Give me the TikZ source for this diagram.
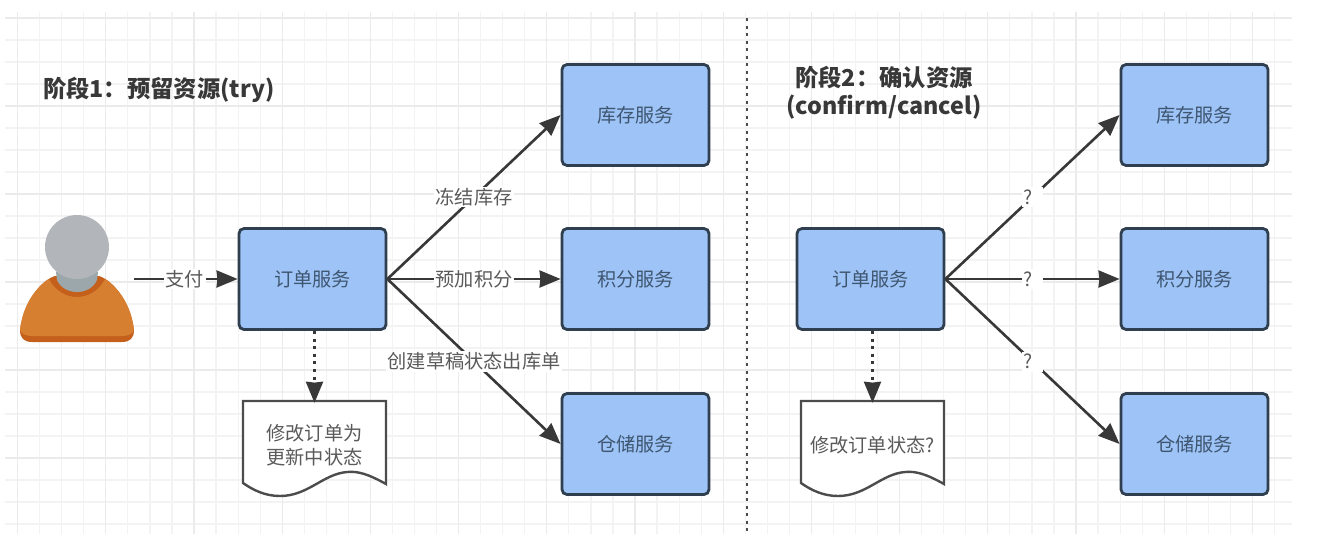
\documentclass[tikz,border=0pt]{standalone}
\usepackage{fontspec}
\setmainfont{Noto Sans CJK SC}
\usetikzlibrary{arrows.meta}
\definecolor{gridc}{HTML}{F3F3F3}
\definecolor{gridm}{HTML}{EBEBEB}
\definecolor{boxf}{HTML}{9DC3F7}
\definecolor{boxd}{HTML}{2F3F4F}
\definecolor{linec}{HTML}{383838}
\definecolor{txt}{HTML}{5A5A5A}
\definecolor{btxt}{HTML}{3F5670}
\definecolor{headc}{HTML}{B2B6BA}
\definecolor{neckc}{HTML}{9BA7AA}
\definecolor{bodyc}{HTML}{D67F30}
\definecolor{bodyd}{HTML}{C4601C}
\tikzset{
  x=1pt,y=-1pt,
  service/.style={draw=boxd,fill=boxf,line width=2.8pt,rounded corners=5pt,minimum width=147pt,minimum height=101pt,inner sep=0pt,text=btxt,font=\fontsize{19.2}{23}\selectfont},
  conn/.style={draw=linec,line width=2.6pt,-{Stealth[length=21pt,width=17pt,inset=0.8pt]}},
  dotconn/.style={conn,dash pattern=on 3pt off 4.6pt},
  elabel/.style={fill=white,inner sep=1.5pt,text=txt,font=\fontsize{19.2}{23}\selectfont},
  qlabel/.style={elabel,minimum width=21pt,minimum height=20pt,inner sep=0pt},
  title/.style={text=black!78,font=\fontsize{23.3}{28}\selectfont\bfseries,align=center,inner sep=0pt},
  docbox/.style={minimum width=143pt,minimum height=84pt,inner sep=0pt,text=txt,align=center,font=\fontsize{19.2}{24}\selectfont},
  docline/.style={draw=black!70,fill=white,line width=2.4pt,line join=miter},
  ghost/.style={minimum width=115pt,minimum height=126pt,inner sep=0pt}
}
\newcommand{\docshape}[1]{%
  \path[docline] (#1,401) -- (#1+143,401) -- (#1+143,484)
    .. controls (#1+125,474) and (#1+115,471) .. (#1+104,472)
    .. controls (#1+80,474) and (#1+65,496) .. (#1+37,496)
    .. controls (#1+22,496) and (#1+10,490) .. (#1,483) -- cycle;}
\begin{document}
\begin{tikzpicture}
\useasboundingbox (0,0) rectangle (1326,536);
\fill[white] (0,0) rectangle (1326,536);
% grid
\foreach \i in {0,...,57}{
  \pgfmathsetmacro\gx{17.6+22.05*\i}
  \draw[gridc,line width=1.2pt] (\gx,12) -- (\gx,534);
}
\foreach \i in {0,...,23}{
  \pgfmathsetmacro\gy{18+22*\i}
  \draw[gridc,line width=1.2pt] (5,\gy) -- (1292,\gy);
}
\foreach \i in {0,...,14}{
  \pgfmathsetmacro\gx{17.6+88.2*\i}
  \draw[gridm,line width=1.2pt] (\gx,12) -- (\gx,534);
}
\foreach \i in {0,...,5}{
  \pgfmathsetmacro\gy{18+88*\i}
  \draw[gridm,line width=1.2pt] (5,\gy) -- (1292,\gy);
}
% separator
\coordinate (septop) at (747,18);
\coordinate (sepbot) at (747,533);
\draw[black!70,line width=2.6pt,dash pattern=on 3pt off 4.5pt] (septop) -- (sepbot);
% titles
\node[title,anchor=west] (t1) at (43,90) {阶段1：预留资源(try)};
\node[title] (t2) at (884,93) {阶段2：确认资源\\(confirm/cancel)};
% person
\node[ghost] (person) at (76.5,279) {};
\fill[bodyd] (20,330) .. controls (24,300) and (42,280) .. (55,276) -- (99,276) .. controls (112,280) and (130,300) .. (134,330) .. controls (134,338) and (130,342) .. (122,342) -- (32,342) .. controls (24,342) and (20,338) .. (20,330) -- cycle;
\fill[bodyc] (20,330) .. controls (23,303) and (37,287) .. (49,279) .. controls (61,303) and (93,303) .. (105,279) .. controls (117,287) and (131,303) .. (134,330) .. controls (133,334) and (128,336) .. (122,336) -- (32,336) .. controls (26,336) and (21,334) .. (20,330) -- cycle;
\fill[neckc] (56,272) -- (98,272) -- (97,280) .. controls (90,296) and (64,296) .. (57,280) -- cycle;
\fill[headc] (77,247) circle (32);
% services left
\node[service] (o1) at (312.5,279) {订单服务};
\node[service] (a1) at (635.5,115) {库存服务};
\node[service] (b1) at (635.5,279) {积分服务};
\node[service] (c1) at (635.5,444) {仓储服务};
% services right
\node[service] (o2) at (870.5,279) {订单服务};
\node[service] (a2) at (1194.5,115) {库存服务};
\node[service] (b2) at (1194.5,279) {积分服务};
\node[service] (c2) at (1194.5,444) {仓储服务};
% documents
\docshape{243}
\docshape{801}
\node[docbox] (d1) at (314.5,445) {修改订单为\\更新中状态};
\node[docbox] (d2) at (872.5,445) {修改订单状态?};
% connectors
\draw[conn] (person.east) -- node[elabel,pos=.49] {支付} (o1.west);
\draw[conn] (o1.east) -- node[elabel,pos=.5] {冻结库存} (a1.west);
\draw[conn] (o1.east) -- node[elabel,pos=.5] {预加积分} (b1.west);
\draw[conn] (o1.east) -- node[elabel,pos=.5] {创建草稿状态出库单} (c1.west);
\draw[conn] (o2.east) -- node[qlabel,pos=.5] {?\hspace*{9pt}} (a2.west);
\draw[conn] (o2.east) -- node[qlabel,pos=.5] {?\hspace*{9pt}} (b2.west);
\draw[conn] (o2.east) -- node[qlabel,pos=.5] {?\hspace*{9pt}} (c2.west);
\draw[dotconn] (o1.south -| d1.north) -- (d1.north);
\draw[dotconn] (o2.south -| d2.north) -- (d2.north);
\end{tikzpicture}
\end{document}
